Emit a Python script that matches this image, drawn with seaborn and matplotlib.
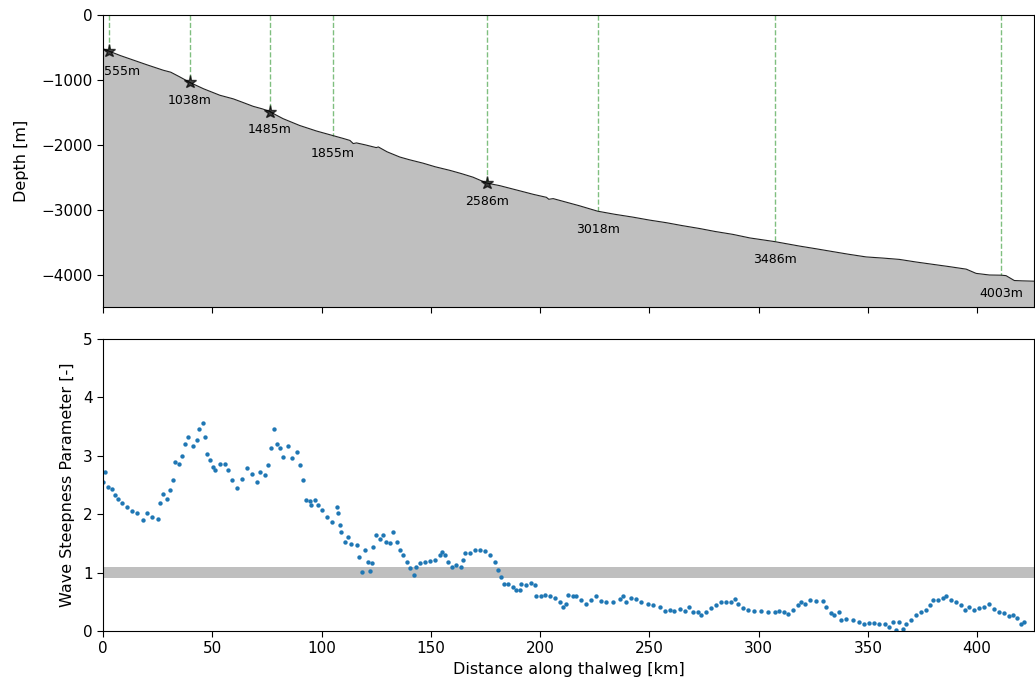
import numpy as np
import pandas as pd
import matplotlib
matplotlib.use("Agg")
import matplotlib.pyplot as plt
import seaborn as sns

# ---------------- data ----------------
# thalweg depth profile (distance km, depth m)
profile_km = [0, 2.7, 8, 14, 20, 27.6, 31, 35, 39.8, 46, 53.5, 59.6, 64, 68.7, 73, 76.4,
              79, 82.4, 90, 97.7, 105.2, 110, 113, 114.5, 116, 120, 125, 126, 130, 135.8,
              140, 146.5, 152, 158.7, 164, 169.3, 175.6, 181.5, 190.7, 197, 202.9, 204,
              206, 212, 218, 226.3, 234, 242.5, 250, 257.7, 265, 273, 280, 288.2, 296,
              307.3, 318.7, 326, 333.9, 341, 349.2, 357, 364.4, 372, 379.7, 387, 395,
              399.5, 405.6, 411.1, 413.2, 417, 420.5, 426]
profile_depth = [-520, -555, -625, -695, -765, -850, -880, -950, -1038, -1135, -1235, -1290,
                 -1345, -1405, -1445, -1485, -1535, -1595, -1700, -1785, -1855, -1900, -1930,
                 -1978, -1968, -1998, -2040, -2030, -2105, -2185, -2225, -2280, -2335, -2390,
                 -2440, -2495, -2586, -2625, -2705, -2760, -2805, -2835, -2825, -2880, -2935,
                 -3018, -3065, -3110, -3155, -3195, -3240, -3285, -3330, -3375, -3430, -3486,
                 -3555, -3595, -3640, -3680, -3722, -3740, -3760, -3800, -3836, -3870, -3910,
                 -3975, -4000, -4003, -4010, -4085, -4090, -4095]

# marked locations
mark_km = [2.7, 39.8, 76.4, 105.2, 175.6, 226.3, 307.3, 411.1]
mark_depth = [555, 1038, 1485, 1855, 2586, 3018, 3486, 4003]
mark_star = [True, True, True, False, True, False, False, False]

# wave steepness parameter along thalweg
steep_km = [0.0, 0.9, 2.4, 4.0, 5.5, 7.0, 8.5, 10.8, 13.1, 15.4, 18.1, 20.0, 22.3, 25.3, 26.0,
            27.6, 29.1, 30.6, 32.2, 32.9, 34.9, 36.0, 37.5, 39.0, 41.3, 42.8, 44.0, 45.6, 46.6,
            47.7, 48.9, 50.4, 51.2, 53.5, 55.8, 57.3, 58.8, 61.1, 63.4, 65.7, 68.0, 70.3, 71.8,
            74.1, 75.6, 77.1, 78.3, 79.4, 80.9, 82.4, 84.7, 86.6, 88.6, 90.1, 91.6, 93.1, 94.7,
            95.4, 96.9, 98.4, 100.0, 102.3, 104.6, 106.9, 107.6, 108.4, 109.1, 110.7, 112.2,
            113.7, 116.0, 117.2, 118.3, 119.8, 121.3, 122.1, 122.9, 123.6, 125.1, 126.7, 128.2,
            129.7, 131.2, 132.7, 134.3, 135.8, 137.3, 138.9, 140.4, 142.2, 143.4, 144.9, 147.2,
            149.5, 151.8, 154.1, 155.2, 156.7, 157.9, 159.7, 161.7, 163.7, 164.8, 165.8, 167.8,
            170.1, 172.4, 174.7, 177.0, 179.2, 180.8, 182.3, 183.5, 185.3, 187.6, 189.2, 190.7,
            191.4, 193.7, 196.0, 197.5, 198.3, 200.6, 202.1, 204.4, 206.7, 209.0, 210.5, 212.0,
            212.8, 215.0, 216.6, 218.9, 221.2, 223.4, 225.7, 228.0, 230.3, 233.3, 236.4, 237.9,
            239.5, 241.7, 244.0, 246.3, 249.4, 251.6, 254.7, 257.0, 259.3, 261.5, 263.8, 266.1,
            268.0, 269.9, 272.2, 273.7, 276.0, 278.3, 280.6, 282.9, 285.2, 287.5, 289.0, 290.6,
            292.8, 295.1, 298.1, 301.2, 304.2, 307.3, 309.5, 311.8, 313.4, 315.6, 317.9, 319.5,
            321.0, 323.3, 326.3, 329.4, 330.9, 333.2, 334.7, 336.7, 337.7, 340.0, 343.0, 346.1,
            348.4, 350.7, 353.0, 355.3, 357.6, 359.5, 361.4, 362.9, 364.1, 365.9, 367.5, 369.8,
            372.1, 374.4, 376.6, 378.2, 379.7, 382.0, 384.2, 385.8, 388.1, 390.4, 392.6, 394.2,
            396.4, 398.7, 401.0, 403.3, 405.6, 407.9, 410.2, 412.4, 414.7, 416.2, 418.1, 420.1,
            421.6]
steep_val = [2.55, 2.72, 2.46, 2.43, 2.32, 2.26, 2.18, 2.12, 2.05, 2.01, 1.89, 2.01, 1.95, 1.92,
             2.18, 2.35, 2.26, 2.41, 2.58, 2.89, 2.86, 3.00, 3.20, 3.32, 3.17, 3.26, 3.46, 3.55,
             3.32, 3.03, 2.92, 2.80, 2.75, 2.86, 2.86, 2.75, 2.58, 2.45, 2.60, 2.78, 2.69, 2.55,
             2.72, 2.66, 2.83, 3.12, 3.46, 3.20, 3.12, 2.97, 3.17, 2.95, 3.06, 2.83, 2.58, 2.24,
             2.22, 2.15, 2.24, 2.15, 2.06, 1.95, 1.87, 2.12, 2.01, 1.81, 1.69, 1.52, 1.61, 1.48,
             1.47, 1.27, 1.01, 1.38, 1.18, 1.03, 1.16, 1.44, 1.64, 1.58, 1.64, 1.52, 1.50, 1.69,
             1.52, 1.38, 1.30, 1.18, 1.07, 0.96, 1.10, 1.16, 1.18, 1.20, 1.22, 1.30, 1.35, 1.30,
             1.18, 1.10, 1.13, 1.10, 1.21, 1.33, 1.33, 1.39, 1.39, 1.37, 1.30, 1.18, 1.04, 0.93,
             0.81, 0.81, 0.76, 0.70, 0.70, 0.81, 0.78, 0.82, 0.78, 0.59, 0.59, 0.61, 0.60, 0.56,
             0.50, 0.41, 0.47, 0.61, 0.59, 0.60, 0.53, 0.47, 0.53, 0.59, 0.52, 0.49, 0.50, 0.54,
             0.60, 0.50, 0.56, 0.54, 0.50, 0.47, 0.44, 0.41, 0.35, 0.36, 0.35, 0.37, 0.35, 0.41,
             0.33, 0.32, 0.27, 0.33, 0.40, 0.44, 0.49, 0.50, 0.50, 0.55, 0.47, 0.39, 0.36, 0.35,
             0.35, 0.33, 0.32, 0.35, 0.33, 0.29, 0.36, 0.44, 0.50, 0.47, 0.53, 0.52, 0.52, 0.41,
             0.30, 0.27, 0.32, 0.19, 0.20, 0.18, 0.16, 0.12, 0.14, 0.14, 0.12, 0.12, 0.07, 0.16,
             0.02, 0.16, 0.03, 0.12, 0.19, 0.27, 0.33, 0.36, 0.44, 0.53, 0.53, 0.57, 0.60, 0.53,
             0.50, 0.44, 0.36, 0.41, 0.36, 0.39, 0.41, 0.46, 0.37, 0.33, 0.30, 0.26, 0.28, 0.22,
             0.12, 0.16]

band_low, band_high = 0.9, 1.1
x_max = 426
depth_min = -4500

# ---------------- figure ----------------
fig, (ax1, ax2) = plt.subplots(2, 1, sharex=True, figsize=(10.35, 6.86), dpi=100)
fig.subplots_adjust(left=103 / 1035, right=1034 / 1035, top=1 - 15 / 686,
                    bottom=1 - 631 / 686, hspace=0.106)

prof = pd.DataFrame({"km": profile_km, "depth": profile_depth})
ax1.fill_between(prof["km"], prof["depth"], depth_min, color="gray", alpha=0.5, lw=0)
sns.lineplot(data=prof, x="km", y="depth", ax=ax1, color="#222222", lw=0.8,
             sort=False, estimator=None, legend=False)

for km, d, star in zip(mark_km, mark_depth, mark_star):
    ax1.plot([km, km], [0, -d], color="g", ls="--", lw=1, alpha=0.5, zorder=1)
    if star:
        ax1.plot(km, -d, marker="*", color="black", markersize=9.5, alpha=0.7, zorder=3)
    if km < 8:
        ax1.text(0.5, -d - 320, f"{d}m", ha="left", va="center", fontsize=9)
    else:
        ax1.text(km, -d - 278, f"{d}m", ha="center", va="center", fontsize=9)

ax1.set_ylim(depth_min, 0)
ax1.set_xlim(0, x_max)
ax1.set_ylabel("Depth [m]", fontsize=11.5, labelpad=9)
ax1.set_xlabel("")
ax1.set_yticks([0, -1000, -2000, -3000, -4000])

steep = pd.DataFrame({"km": steep_km, "val": steep_val})
ax2.axhspan(band_low, band_high, color="gray", alpha=0.5, lw=0, zorder=1)
sns.scatterplot(data=steep, x="km", y="val", ax=ax2, s=10, color="tab:blue",
                linewidth=0, zorder=2, legend=False)
ax2.set_ylim(0, 5)
ax2.set_xlim(0, x_max)
ax2.set_ylabel("Wave Steepness Parameter [-]", fontsize=11.5, labelpad=5.5)
ax2.set_xlabel("Distance along thalweg [km]", fontsize=11.5)

for ax in (ax1, ax2):
    ax.tick_params(labelsize=11, length=4)

fig.savefig("out.png", dpi=100)
